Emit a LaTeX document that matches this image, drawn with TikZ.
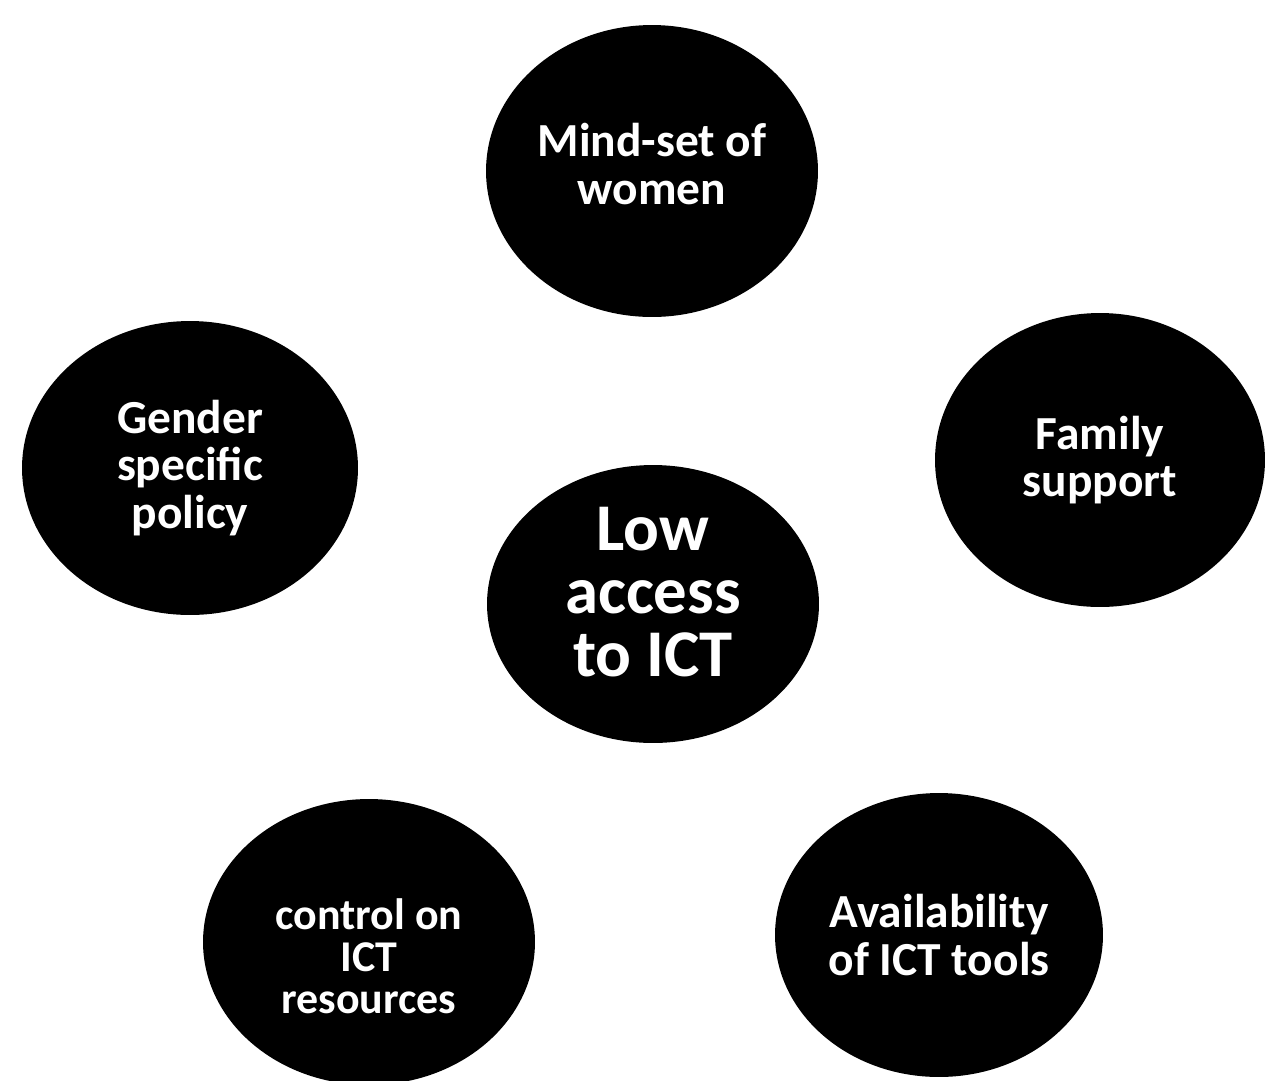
\documentclass[tikz,border=0pt]{standalone}
\usepackage{fontspec}
\setmainfont{Carlito}
\usepackage{tikz}
\usetikzlibrary{shapes.geometric}
\tikzset{%
    blob/.style={%
        ellipse, fill=black, inner sep=0pt
    },
    say/.style={%
        text=white, inner sep=0pt, align=center,
        font=\bfseries\fontsize{27}{27}\selectfont
    }
}

\begin{document}
\begin{tikzpicture}[x=0.02cm,y=-0.02cm]
    \useasboundingbox (0,0) rectangle (1265,1080);
    % the six discs
    \node[blob,minimum width=6.64cm,minimum height=5.56cm] (low) at (653,604) {};
    \node[blob,minimum width=6.64cm,minimum height=5.84cm] (mind) at (652,171) {};
    \node[blob,minimum width=6.72cm,minimum height=5.88cm] (gender) at (190,468) {};
    \node[blob,minimum width=6.6cm,minimum height=5.88cm] (family) at (1100,460) {};
    \node[blob,minimum width=6.64cm,minimum height=5.72cm] (control) at (369,942) {};
    \node[blob,minimum width=6.56cm,minimum height=5.68cm] (avail) at (939,935) {};
    % their words
    \node[say,font=\bfseries\fontsize{38}{36}\selectfont] (lowtext) at ([yshift=0.24cm]low.center) {Low\\access\\to ICT};
    \node[say] (mindtext) at ([yshift=0.14cm]mind.center) {Mind-set of\\women};
    \node[say] (gendertext) at (gender.center) {Gender\\specific\\policy};
    \node[say] (familytext) at (family.center) {Family\\support};
    \node[say,font=\bfseries\fontsize{25}{24}\selectfont] (controltext) at ([yshift=-0.28cm]control.center) {control on\\ICT\\resources};
    \node[say] (availtext) at (avail.center) {Availability\\of ICT tools};
\end{tikzpicture}
\end{document}
